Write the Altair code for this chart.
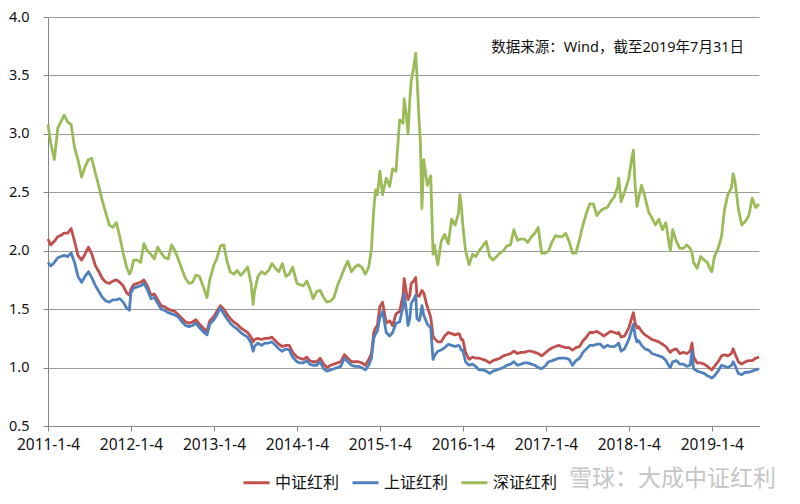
import altair as alt
import pandas as pd

# ---- dates (year by year) ----
dates_2011 = ["2011-01-04", "2011-01-16", "2011-02-01", "2011-02-16", "2011-03-01", "2011-03-16",
              "2011-04-01", "2011-04-16", "2011-05-01", "2011-05-16", "2011-06-01", "2011-06-16",
              "2011-07-01", "2011-07-16", "2011-08-01", "2011-08-16", "2011-09-01", "2011-09-16",
              "2011-10-01", "2011-10-16", "2011-11-01", "2011-11-16", "2011-12-01", "2011-12-16",
              "2011-12-28"]
dates_2012 = ["2012-01-04", "2012-01-16", "2012-02-01", "2012-02-16", "2012-03-01", "2012-03-16",
              "2012-04-01", "2012-04-16", "2012-05-01", "2012-05-16", "2012-06-01", "2012-06-16",
              "2012-07-01", "2012-07-16", "2012-08-01", "2012-08-16", "2012-09-01", "2012-09-16",
              "2012-10-01", "2012-10-16", "2012-11-01", "2012-11-16", "2012-12-04", "2012-12-16"]
dates_2013 = ["2013-01-04", "2013-01-16", "2013-02-01", "2013-02-16", "2013-03-01", "2013-03-16",
              "2013-04-01", "2013-04-16", "2013-05-01", "2013-05-16", "2013-06-01", "2013-06-16",
              "2013-06-25", "2013-07-01", "2013-07-16", "2013-08-01", "2013-08-16", "2013-09-01",
              "2013-09-16", "2013-10-01", "2013-10-16", "2013-11-01", "2013-11-16", "2013-12-01",
              "2013-12-16"]
dates_2014 = ["2014-01-04", "2014-01-16", "2014-02-01", "2014-02-16", "2014-03-01", "2014-03-16",
              "2014-04-01", "2014-04-16", "2014-05-01", "2014-05-16", "2014-06-01", "2014-06-16",
              "2014-07-01", "2014-07-16", "2014-08-01", "2014-08-16", "2014-09-01", "2014-09-16",
              "2014-10-01", "2014-10-16", "2014-11-01", "2014-11-16", "2014-11-28", "2014-12-08",
              "2014-12-16", "2014-12-24"]
dates_2015 = ["2015-01-04", "2015-01-16", "2015-02-01", "2015-02-16", "2015-03-01", "2015-03-16",
              "2015-04-01", "2015-04-16", "2015-04-21", "2015-05-01", "2015-05-08", "2015-05-16",
              "2015-05-22", "2015-06-01", "2015-06-11", "2015-06-16", "2015-06-26", "2015-07-01",
              "2015-07-08", "2015-07-16", "2015-08-01", "2015-08-16", "2015-08-26", "2015-09-01",
              "2015-09-16", "2015-10-01", "2015-10-16", "2015-11-01", "2015-11-16", "2015-12-01",
              "2015-12-16", "2015-12-22", "2015-12-28"]
dates_2016 = ["2016-01-04", "2016-01-16", "2016-02-01", "2016-02-16", "2016-03-01", "2016-03-16",
              "2016-04-01", "2016-04-16", "2016-05-01", "2016-05-16", "2016-06-01", "2016-06-16",
              "2016-07-01", "2016-07-16", "2016-08-01", "2016-08-16", "2016-09-01", "2016-09-16",
              "2016-10-01", "2016-10-16", "2016-11-01", "2016-11-16", "2016-12-01", "2016-12-16"]
dates_2017 = ["2017-01-04", "2017-01-16", "2017-02-01", "2017-02-16", "2017-03-01", "2017-03-16",
              "2017-04-01", "2017-04-16", "2017-05-01", "2017-05-16", "2017-06-01", "2017-06-16",
              "2017-07-01", "2017-07-16", "2017-08-01", "2017-08-16", "2017-09-01", "2017-09-16",
              "2017-10-01", "2017-10-16", "2017-11-01", "2017-11-16", "2017-11-20", "2017-12-01",
              "2017-12-16"]
dates_2018 = ["2018-01-04", "2018-01-16", "2018-01-24", "2018-02-01", "2018-02-09", "2018-02-16",
              "2018-03-01", "2018-03-16", "2018-04-01", "2018-04-16", "2018-05-01", "2018-05-16",
              "2018-06-01", "2018-06-16", "2018-07-01", "2018-07-06", "2018-07-16", "2018-08-01",
              "2018-08-16", "2018-09-01", "2018-09-16", "2018-10-01", "2018-10-09", "2018-10-16",
              "2018-11-01", "2018-11-16", "2018-12-01", "2018-12-16", "2018-12-28"]
dates_2019 = ["2019-01-04", "2019-01-16", "2019-02-01", "2019-02-16", "2019-03-01", "2019-03-16",
              "2019-04-01", "2019-04-08", "2019-04-16", "2019-05-01", "2019-05-16", "2019-06-01",
              "2019-06-16", "2019-07-01", "2019-07-16", "2019-07-31"]

# ---- 中证红利 (red) ----
zz_2011 = [2.10, 2.05, 2.08, 2.12, 2.13, 2.15, 2.15, 2.19, 2.08, 1.96, 1.92, 1.97, 2.03, 1.97, 1.87,
           1.82, 1.76, 1.73, 1.72, 1.74, 1.75, 1.73, 1.70, 1.64, 1.62]
zz_2012 = [1.67, 1.71, 1.72, 1.73, 1.75, 1.70, 1.62, 1.63, 1.58, 1.53, 1.52, 1.50, 1.49, 1.48, 1.45,
           1.42, 1.39, 1.38, 1.39, 1.41, 1.37, 1.34, 1.31, 1.40]
zz_2013 = [1.44, 1.48, 1.53, 1.50, 1.46, 1.42, 1.39, 1.37, 1.34, 1.32, 1.30, 1.26, 1.22, 1.24, 1.25,
           1.24, 1.25, 1.25, 1.26, 1.23, 1.20, 1.18, 1.19, 1.19, 1.13]
zz_2014 = [1.09, 1.08, 1.07, 1.09, 1.06, 1.05, 1.05, 1.08, 1.03, 1.00, 1.02, 1.03, 1.04, 1.05, 1.11,
           1.08, 1.05, 1.05, 1.05, 1.04, 1.02, 1.07, 1.12, 1.30, 1.34, 1.36]
zz_2015 = [1.52, 1.56, 1.38, 1.40, 1.36, 1.46, 1.48, 1.62, 1.76, 1.64, 1.58, 1.62, 1.72, 1.74, 1.77,
           1.62, 1.61, 1.63, 1.66, 1.64, 1.52, 1.43, 1.27, 1.25, 1.22, 1.22, 1.27, 1.30, 1.29, 1.28,
           1.29, 1.28, 1.24]
zz_2016 = [1.24, 1.13, 1.07, 1.09, 1.08, 1.08, 1.07, 1.06, 1.04, 1.06, 1.07, 1.08, 1.10, 1.11, 1.12,
           1.14, 1.12, 1.13, 1.13, 1.14, 1.14, 1.13, 1.12, 1.10]
zz_2017 = [1.13, 1.15, 1.17, 1.18, 1.19, 1.18, 1.17, 1.17, 1.15, 1.17, 1.18, 1.23, 1.26, 1.30, 1.30,
           1.31, 1.29, 1.27, 1.29, 1.31, 1.30, 1.29, 1.30, 1.26, 1.27]
zz_2018 = [1.34, 1.42, 1.47, 1.38, 1.34, 1.35, 1.31, 1.28, 1.26, 1.24, 1.23, 1.22, 1.20, 1.18, 1.14,
           1.13, 1.15, 1.16, 1.12, 1.13, 1.12, 1.14, 1.21, 1.09, 1.04, 1.04, 1.03, 1.01, 0.99]
zz_2019 = [0.98, 1.01, 1.05, 1.10, 1.11, 1.10, 1.12, 1.16, 1.12, 1.05, 1.03, 1.05, 1.06, 1.06, 1.08,
           1.09]

# ---- 上证红利 (blue) ----
sh_2011 = [1.90, 1.87, 1.90, 1.94, 1.95, 1.96, 1.95, 1.98, 1.90, 1.78, 1.73, 1.78, 1.82, 1.77, 1.70,
           1.65, 1.60, 1.57, 1.56, 1.58, 1.58, 1.59, 1.56, 1.51, 1.49]
sh_2012 = [1.64, 1.68, 1.69, 1.70, 1.72, 1.67, 1.59, 1.60, 1.55, 1.50, 1.49, 1.47, 1.46, 1.45, 1.43,
           1.39, 1.36, 1.35, 1.36, 1.38, 1.34, 1.31, 1.28, 1.37]
sh_2013 = [1.41, 1.45, 1.51, 1.46, 1.42, 1.38, 1.35, 1.33, 1.30, 1.28, 1.26, 1.21, 1.14, 1.18, 1.21,
           1.19, 1.21, 1.21, 1.22, 1.19, 1.16, 1.14, 1.16, 1.15, 1.09]
sh_2014 = [1.05, 1.04, 1.04, 1.06, 1.03, 1.02, 1.02, 1.05, 0.99, 0.97, 0.98, 0.99, 1.00, 1.01, 1.08,
           1.05, 1.02, 1.01, 1.01, 1.00, 0.98, 1.02, 1.08, 1.25, 1.29, 1.31]
sh_2015 = [1.43, 1.48, 1.30, 1.27, 1.30, 1.38, 1.39, 1.52, 1.63, 1.48, 1.36, 1.42, 1.55, 1.58, 1.62,
           1.42, 1.40, 1.44, 1.53, 1.45, 1.37, 1.34, 1.07, 1.10, 1.14, 1.15, 1.17, 1.20, 1.19, 1.18,
           1.19, 1.18, 1.15]
sh_2016 = [1.15, 1.05, 1.02, 1.03, 1.01, 0.98, 0.98, 0.97, 0.95, 0.97, 0.98, 0.99, 1.00, 1.02, 1.03,
           1.05, 1.02, 1.03, 1.04, 1.04, 1.03, 1.02, 1.00, 0.99]
sh_2017 = [1.02, 1.05, 1.06, 1.07, 1.08, 1.08, 1.08, 1.07, 1.02, 1.06, 1.08, 1.13, 1.16, 1.19, 1.19,
           1.20, 1.20, 1.17, 1.19, 1.18, 1.18, 1.20, 1.21, 1.14, 1.16]
sh_2018 = [1.24, 1.32, 1.37, 1.27, 1.22, 1.23, 1.19, 1.16, 1.15, 1.12, 1.11, 1.10, 1.09, 1.06, 1.01,
           1.00, 1.05, 1.06, 1.03, 1.03, 1.01, 1.02, 1.14, 0.99, 0.97, 0.96, 0.95, 0.93, 0.92]
sh_2019 = [0.91, 0.93, 0.97, 1.02, 1.01, 1.00, 1.02, 1.05, 1.02, 0.95, 0.94, 0.96, 0.96, 0.97, 0.98,
           0.99]

# ---- 深证红利 (green) ----
sz_2011 = [3.08, 2.92, 2.78, 3.05, 3.10, 3.16, 3.10, 3.08, 2.88, 2.78, 2.63, 2.72, 2.78, 2.79, 2.66,
           2.55, 2.42, 2.32, 2.22, 2.20, 2.24, 2.12, 1.98, 1.86, 1.80]
sz_2012 = [1.82, 1.92, 1.92, 1.90, 2.06, 2.00, 1.97, 1.93, 2.03, 1.98, 1.94, 1.93, 2.05, 2.00, 1.92,
           1.84, 1.76, 1.72, 1.73, 1.79, 1.78, 1.70, 1.60, 1.75]
sz_2013 = [1.88, 1.93, 2.04, 2.05, 1.92, 1.82, 1.80, 1.83, 1.79, 1.82, 1.86, 1.72, 1.54, 1.65, 1.78,
           1.82, 1.80, 1.83, 1.89, 1.85, 1.82, 1.89, 1.78, 1.80, 1.86]
sz_2014 = [1.72, 1.71, 1.70, 1.74, 1.68, 1.59, 1.65, 1.66, 1.60, 1.56, 1.57, 1.60, 1.70, 1.77, 1.85,
           1.91, 1.82, 1.86, 1.88, 1.86, 1.80, 1.86, 2.02, 2.35, 2.52, 2.48]
sz_2015 = [2.68, 2.48, 2.62, 2.55, 2.70, 2.68, 3.12, 3.09, 3.30, 3.15, 3.00, 3.30, 3.45, 3.56, 3.69,
           3.50, 3.10, 2.95, 2.36, 2.78, 2.56, 2.64, 1.97, 2.05, 1.88, 2.08, 2.14, 2.06, 2.27, 2.22,
           2.32, 2.48, 2.40]
sz_2016 = [2.22, 2.00, 1.88, 1.97, 1.95, 2.00, 2.04, 2.08, 1.95, 1.92, 1.95, 1.98, 2.00, 2.04, 2.05,
           2.18, 2.09, 2.10, 2.10, 2.07, 2.12, 2.15, 2.20, 1.98]
sz_2017 = [1.98, 2.00, 2.08, 2.13, 2.12, 2.12, 2.15, 2.08, 1.98, 1.98, 2.10, 2.22, 2.32, 2.40, 2.40,
           2.30, 2.34, 2.36, 2.37, 2.42, 2.46, 2.55, 2.62, 2.42, 2.50]
sz_2018 = [2.62, 2.78, 2.86, 2.55, 2.38, 2.45, 2.56, 2.46, 2.33, 2.28, 2.22, 2.27, 2.18, 2.24, 2.05,
           2.00, 2.18, 2.08, 2.02, 2.02, 2.05, 2.02, 1.98, 1.90, 1.85, 1.95, 1.92, 1.90, 1.84]
sz_2019 = [1.82, 1.95, 2.02, 2.12, 2.35, 2.48, 2.54, 2.66, 2.60, 2.36, 2.22, 2.25, 2.30, 2.45, 2.37,
           2.40]

SERIES = ["中证红利", "上证红利", "深证红利"]
COLORS = ["#C0504D", "#4F81BD", "#9BBB59"]
TICK_YEARS = [2011, 2012, 2013, 2014, 2015, 2016, 2017, 2018, 2019]
Y_TICKS = [0.5, 1.0, 1.5, 2.0, 2.5, 3.0, 3.5, 4.0]
NOTE = "数据来源：Wind，截至2019年7月31日"
WATERMARK = "雪球：大成中证红利"

dates = (dates_2011 + dates_2012 + dates_2013 + dates_2014 + dates_2015 + dates_2016
         + dates_2017 + dates_2018 + dates_2019)
zz = zz_2011 + zz_2012 + zz_2013 + zz_2014 + zz_2015 + zz_2016 + zz_2017 + zz_2018 + zz_2019
sh = sh_2011 + sh_2012 + sh_2013 + sh_2014 + sh_2015 + sh_2016 + sh_2017 + sh_2018 + sh_2019
sz = sz_2011 + sz_2012 + sz_2013 + sz_2014 + sz_2015 + sz_2016 + sz_2017 + sz_2018 + sz_2019
assert len(dates) == len(zz) == len(sh) == len(sz)

rows = []
for name, vals in zip(SERIES, [zz, sh, sz]):
    for d, v in zip(dates, vals):
        rows.append({"date": d, "value": v, "series": name})
df = pd.DataFrame(rows)

FONT = "'Noto Sans', 'Noto Sans CJK SC', sans-serif"

x_enc = alt.X(
    "date:T",
    scale=alt.Scale(
        type="utc",
        domain=[alt.DateTime(year=2011, month=1, date=4, utc=True),
                alt.DateTime(year=2019, month=7, date=31, utc=True)],
    ),
    axis=alt.Axis(
        values=[alt.DateTime(year=y, month=1, date=4, utc=True) for y in TICK_YEARS],
        format="%Y-%-m-%-d", title=None, grid=False,
        domainColor="#868686", tickColor="#868686", tickSize=5,
        labelFontSize=15.5, labelColor="#111111", labelPadding=6, labelFont=FONT,
        labelFlush=False, labelOverlap=False,
    ),
)
y_enc = alt.Y(
    "value:Q",
    scale=alt.Scale(domain=[0.5, 4.0], nice=False, zero=False),
    axis=alt.Axis(
        values=Y_TICKS, format=".1f", title=None, grid=True,
        gridColor="#9a9a9a", gridWidth=1,
        domainColor="#868686", tickColor="#868686", tickSize=5,
        labelFontSize=14.5, labelColor="#111111", labelPadding=14, labelFont=FONT,
    ),
)

lines = alt.Chart(df).mark_line(strokeWidth=2.8, strokeJoin="round").encode(
    x=x_enc,
    y=y_enc,
    color=alt.Color(
        "series:N",
        scale=alt.Scale(domain=SERIES, range=COLORS),
        sort=SERIES,
        legend=alt.Legend(
            title=None, orient="none", legendX=194, legendY=451,
            direction="horizontal", symbolType="stroke", symbolSize=676,
            symbolStrokeWidth=3, labelFontSize=16, labelFont=FONT,
            labelColor="#111111", labelOffset=4, columnPadding=6, padding=0,
        ),
    ),
)

note = alt.Chart(pd.DataFrame({"t": [NOTE]})).mark_text(
    align="right", baseline="middle", fontSize=14.5, font=FONT, color="#111111"
).encode(x=alt.value(696), y=alt.value(31), text="t:N")

mark = alt.Chart(pd.DataFrame({"t": [WATERMARK]})).mark_text(
    align="left", baseline="middle", fontSize=23, font=FONT, color="#bcbcbc", opacity=0.85
).encode(x=alt.value(521), y=alt.value(462), text="t:N")

chart = alt.layer(lines, note, mark).properties(
    width=711, height=409,
    autosize=alt.AutoSizeParams(type="none"),
    padding={"left": 40, "top": 9, "right": 33, "bottom": 70},
).configure_view(strokeWidth=0)

chart.save("out.html", embed_options={"renderer": "svg", "actions": False})
